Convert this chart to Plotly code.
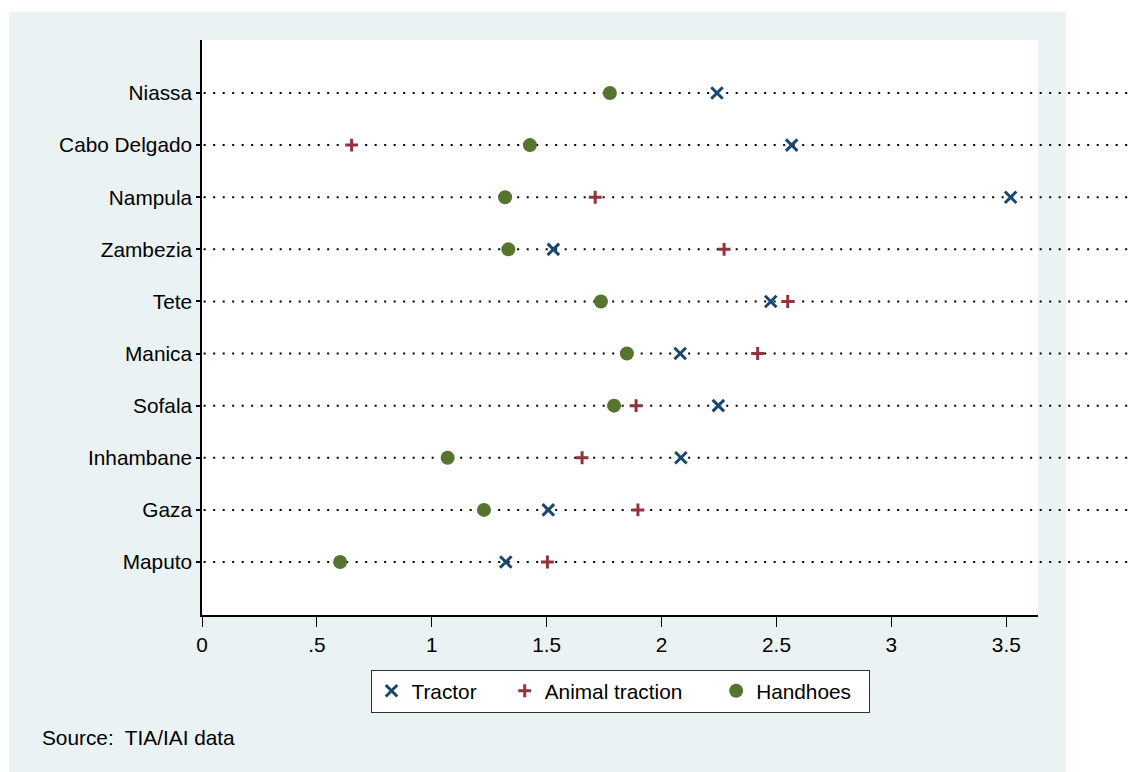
import plotly.graph_objects as go

# Provinces, top to bottom
provinces = ["Niassa", "Cabo Delgado", "Nampula", "Zambezia", "Tete",
             "Manica", "Sofala", "Inhambane", "Gaza", "Maputo"]

# Values per power source (None = no observation)
tractor = [2.241, 2.566, 3.519, 1.529, 2.475, 2.081, 2.247, 2.084, 1.507, 1.322]
animal_traction = [None, 0.651, 1.711, 2.272, 2.549, 2.418, 1.889, 1.654, 1.897, 1.503]
handhoes = [1.775, 1.427, 1.319, 1.333, 1.736, 1.849, 1.793, 1.069, 1.227, 0.601]

x_ticks = [0, 0.5, 1, 1.5, 2, 2.5, 3, 3.5]
x_ticklabels = ["0", ".5", "1", "1.5", "2", "2.5", "3", "3.5"]

FONT = "Arial, Liberation Sans, sans-serif"
FS = 20.8
NAVY = "#1a476f"
MAROON = "#90353b"
GREEN = "#55752f"
BG = "#eaf2f3"

NB = "\u00a0"

fig = go.Figure()

fig.add_trace(go.Scatter(
    x=tractor, y=provinces, mode="markers", name="Tractor" + NB * 4,
    marker=dict(symbol="x-thin", size=11.5, color=NAVY,
                line=dict(color=NAVY, width=3)),
))
fig.add_trace(go.Scatter(
    x=animal_traction, y=provinces, mode="markers", name="Animal traction" + NB * 5,
    marker=dict(symbol="cross-thin", size=9.2, color=MAROON,
                line=dict(color=MAROON, width=3)),
))
fig.add_trace(go.Scatter(
    x=handhoes, y=provinces, mode="markers", name="Handhoes" + NB * 2,
    marker=dict(symbol="circle", size=14, color=GREEN, line=dict(width=0)),
))

shapes = [
    # outer graph region
    dict(type="rect", xref="paper", yref="paper", x0=-0.2309, x1=1.0335,
         y0=-0.30, y1=1.0487, fillcolor=BG, line=dict(width=0), layer="below"),
    # plot region
    dict(type="rect", xref="paper", yref="paper", x0=0, x1=1, y0=0, y1=1,
         fillcolor="white", line=dict(width=0), layer="below"),
]
# dotted guide line for every province
for p in provinces:
    shapes.append(dict(type="line", xref="paper", yref="y", x0=0.002, x1=1.2,
                       y0=p, y1=p, layer="below",
                       line=dict(color="black", width=2, dash="2px,7.5px")))

fig.update_layout(
    width=1134, height=772,
    margin=dict(l=202, r=96, t=40, b=157),
    paper_bgcolor="white", plot_bgcolor="white",
    font=dict(family=FONT, size=FS, color="black"),
    shapes=shapes,
    showlegend=True,
    legend=dict(orientation="h", x=0.5, xanchor="center", y=-0.0951, yanchor="top",
                bgcolor="white", bordercolor="#333333", borderwidth=1,
                font=dict(family=FONT, size=FS, color="black")),
    annotations=[dict(text="Source:" + NB + " TIA/IAI data", xref="paper", yref="paper",
                      x=-0.1941, y=-0.2122, xanchor="left", yanchor="middle",
                      showarrow=False, font=dict(family=FONT, size=FS, color="black"))],
)

fig.update_xaxes(range=[0, 3.638], tickvals=x_ticks, ticktext=x_ticklabels,
                 showgrid=False, zeroline=False, showline=True, linecolor="black",
                 linewidth=1.5, ticks="outside", ticklen=10, tickwidth=1.3,
                 tickcolor="black", ticklabelstandoff=0)
fig.update_yaxes(type="category", categoryorder="array", categoryarray=provinces,
                 range=[9 + 1.017, -1.017], showgrid=False, zeroline=False,
                 showline=True, linecolor="black", linewidth=1.5,
                 ticks="outside", ticklen=4, tickwidth=1.5, tickcolor="black")

fig.write_html("out.html")
